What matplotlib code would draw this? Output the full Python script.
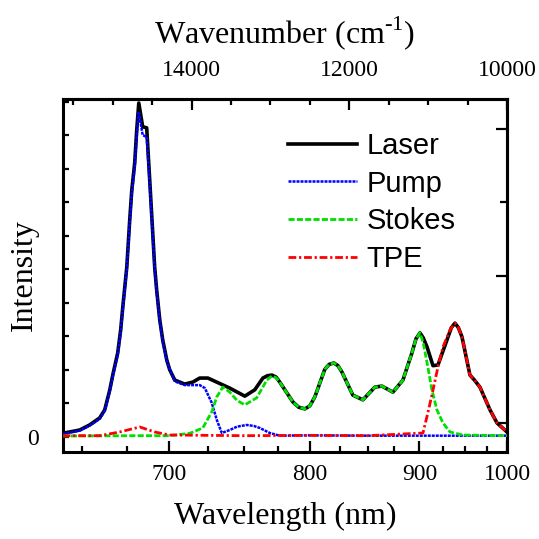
#! /usr/bin/env python3
import numpy as np
import matplotlib
matplotlib.use("Agg")
import matplotlib.pyplot as plt

plt.rcParams['font.family'] = ['Liberation Serif', 'DejaVu Serif']
plt.rcParams['mathtext.fontset'] = 'custom'
plt.rcParams['mathtext.rm'] = 'Liberation Serif'

# wavelength (nm) and intensity (a.u.)
laser_nm = [639.6, 648.6, 653.9, 659.4, 662.2, 665.0, 666.7, 669.5, 671.2, 672.4,
            674.7, 676.4, 677.6, 679.3, 680.5, 681.7, 684.0, 686.4, 688.2, 691.2,
            692.4, 694.3, 696.1, 698.6, 700.4, 703.6, 709.9, 715.1, 719.6, 725.0,
            739.9, 750.5, 757.7, 763.6, 767.0, 770.3, 773.5, 776.3, 786.4, 791.0,
            796.0, 800.0, 804.1, 812.3, 816.0, 820.0, 823.5, 826.9, 836.5, 845.5,
            856.5, 863.1, 873.6, 883.4, 892.4, 896.5, 900.6, 904.0, 907.9, 914.2,
            919.5, 929.3, 934.0, 938.1, 942.0, 946.0, 955.1, 960.0, 966.8, 978.9,
            987.5, 1000.0]
laser_i = [0.10, 0.20, 0.35, 0.56, 0.80, 1.39, 1.84, 2.50, 3.19, 3.87,
           5.06, 6.47, 7.36, 8.17, 9.16, 9.96, 9.25, 9.22, 7.66, 5.06,
           4.38, 3.48, 2.89, 2.29, 2.00, 1.69, 1.57, 1.63, 1.75, 1.75,
           1.45, 1.21, 1.40, 1.75, 1.82, 1.84, 1.78, 1.63, 1.04, 0.88,
           0.83, 0.92, 1.19, 2.01, 2.16, 2.20, 2.12, 1.93, 1.24, 1.10,
           1.48, 1.51, 1.33, 1.69, 2.50, 2.92, 3.10, 2.95, 2.68, 2.12,
           2.14, 2.89, 3.25, 3.39, 3.25, 2.98, 1.84, 1.70, 1.48, 0.80,
           0.41, 0.14]

pump_nm = [639.6, 648.6, 653.9, 659.4, 662.2, 665.0, 666.7, 669.5, 671.2, 672.4,
           674.7, 676.4, 677.6, 679.3, 680.5, 681.7, 684.0, 686.4, 688.2, 691.2,
           692.4, 694.3, 696.1, 698.6, 703.6, 709.9, 719.6, 723.0, 727.6, 731.0,
           734.4, 739.9, 745.0, 751.9, 757.0, 761.4, 768.8, 776.3, 800.0, 850.0,
           900.0, 950.0, 1000.0]
pump_i = [0.08, 0.18, 0.33, 0.53, 0.77, 1.35, 1.80, 2.45, 3.12, 3.80,
          5.00, 6.38, 7.25, 8.05, 9.00, 9.70, 9.00, 8.95, 7.55, 5.00,
          4.32, 3.45, 2.85, 2.25, 1.65, 1.54, 1.54, 1.45, 1.01, 0.50,
          0.11, 0.20, 0.30, 0.35, 0.32, 0.26, 0.11, 0.03, 0.04, 0.03,
          0.03, 0.03, 0.03]

stokes_nm = [639.6, 680.0, 700.0, 713.1, 721.6, 727.6, 731.0, 735.1, 739.9, 745.0,
             750.5, 759.1, 766.5, 770.3, 773.5, 776.3, 786.4, 791.0, 796.0, 800.0,
             804.1, 812.3, 816.0, 820.0, 823.5, 826.9, 836.5, 845.5, 856.5, 863.1,
             873.6, 883.4, 892.4, 896.5, 900.6, 904.0, 908.8, 913.1, 918.4, 924.9,
             932.6, 947.1, 1000.0]
stokes_i = [0.02, 0.03, 0.03, 0.10, 0.26, 0.74, 1.19, 1.48, 1.33, 1.08,
            0.95, 1.16, 1.69, 1.81, 1.76, 1.63, 1.04, 0.88, 0.83, 0.92,
            1.19, 2.01, 2.16, 2.20, 2.12, 1.93, 1.24, 1.10, 1.48, 1.51,
            1.33, 1.69, 2.50, 2.92, 3.10, 2.80, 2.08, 1.39, 0.80, 0.41,
            0.14, 0.05, 0.03]

tpe_nm = [639.6, 659.4, 670.6, 682.3, 691.2, 700.4, 750.0, 800.0, 850.0, 903.7,
          908.8, 914.2, 919.5, 924.9, 932.6, 938.1, 942.0, 946.0, 955.1, 960.0,
          966.8, 978.9, 987.5, 1000.0]
tpe_i = [0.03, 0.03, 0.14, 0.29, 0.14, 0.05, 0.03, 0.04, 0.03, 0.11,
         0.71, 1.39, 2.08, 2.68, 3.19, 3.39, 3.25, 2.98, 1.84, 1.70,
         1.48, 0.80, 0.41, 0.14]

wl_major = [700, 800, 900, 1000]
wl_minor = [650, 675, 725, 750, 775, 825, 850, 875, 925, 950, 975]
wn_major = [14000, 12000, 10000]
wn_minor = [15500, 15000, 14500, 13500, 13000, 12500, 11500, 11000, 10500]


def wn(nm):
    return 1e7 / np.asarray(nm, dtype=float)


fig = plt.figure(figsize=(5.39, 5.39), dpi=100)
ax = fig.add_axes([62.7 / 539, 1 - 452 / 539, (507 - 62.7) / 539, (452 - 99) / 539])

ax.plot(wn(laser_nm), laser_i, color='black', lw=2.6, label='Laser', zorder=2)
ax.plot(wn(pump_nm), pump_i, color='#0000ff', lw=1.8, ls=(0, (1.2, 0.4)), label='Pump', zorder=3)
ax.plot(wn(stokes_nm), stokes_i, color='#00e000', lw=2.0, ls=(0, (2.2, 0.8)), label='Stokes', zorder=4)
ax.plot(wn(tpe_nm), tpe_i, color='#ff0000', lw=2.0, ls=(0, (2.8, 1.0, 0.8, 1.0)), label='TPE', zorder=5)

ax.set_xlim(15634, 10000)
ax.set_ylim(-0.457, 10.08)

for s in ax.spines.values():
    s.set_linewidth(2.2)

ax.set_xticks(wn(wl_major))
ax.set_xticklabels([str(v) for v in wl_major])
ax.set_xticks(wn(wl_minor), minor=True)
ax.tick_params(axis='x', which='major', direction='in', length=8, width=1.6,
               labelsize=17, pad=9)
ax.tick_params(axis='x', which='minor', direction='in', length=4.5, width=1.6)
ax.set_xlabel('Wavelength (nm)', fontsize=23, labelpad=12)

ax.set_yticks(np.arange(0, 11))
ax.set_yticklabels(['0'] + [''] * 10)
ax.tick_params(axis='y', which='major', direction='in', length=4.5, width=1.6,
               labelsize=17, pad=17)
ax.set_ylabel('Intensity', fontsize=23, labelpad=-8)

top = ax.secondary_xaxis('top')
top.set_xticks(wn_major)
top.set_xticklabels([str(v) for v in wn_major])
top.set_xticks(wn_minor, minor=True)
top.tick_params(axis='x', which='major', direction='in', length=8, width=1.6,
                labelsize=17, pad=13)
top.tick_params(axis='x', which='minor', direction='in', length=4.5, width=1.6)
top.spines['top'].set_linewidth(2.2)
top.set_xlabel(r'Wavenumber (cm$^{\text{-1}}$)', fontsize=23, labelpad=12)

right = ax.secondary_yaxis('right')
right.set_yticks([0.41, 4.80, 9.19])
right.set_yticks([2.62, 7.00], minor=True)
right.set_yticklabels([])
right.tick_params(axis='y', which='major', direction='in', length=8, width=1.6)
right.tick_params(axis='y', which='minor', direction='in', length=5, width=1.6)
right.spines['right'].set_linewidth(2.2)

ax.legend(loc='upper left', bbox_to_anchor=(288 / 539, 1 - 132 / 539),
          bbox_transform=fig.transFigure, frameon=False, borderpad=0,
          borderaxespad=0, handlelength=2.35, handletextpad=0.35,
          labelspacing=0.33, prop={'family': 'Liberation Sans', 'size': 21})

fig.savefig('out.png', dpi=100)
